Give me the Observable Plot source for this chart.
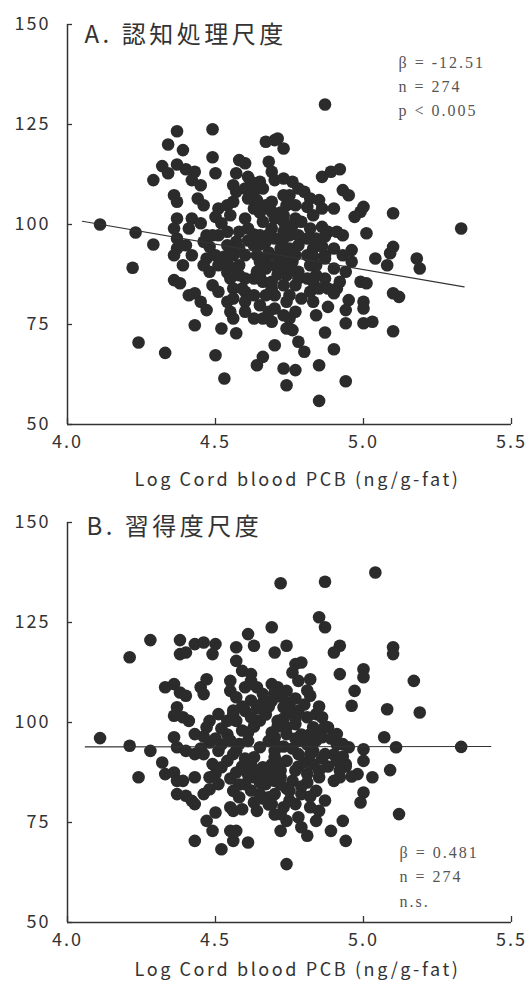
<!DOCTYPE html>
<html>
<head>
<meta charset="utf-8">
<script src="https://cdn.jsdelivr.net/npm/d3@7"></script>
<script src="https://cdn.jsdelivr.net/npm/@observablehq/plot@0.6"></script>
<style>
  html, body { margin: 0; padding: 0; background: #fff; }
  #chart svg { display: block; }
</style>
</head>
<body>
<div id="chart"></div>
<script>
// ---- tick labels and axis text ----
const xTicks = [4.0, 4.5, 5.0, 5.5];
const yTicks = [50, 75, 100, 125, 150];
const xLabel = "Log Cord blood PCB (ng/g-fat)";
const titleA = "A. 認知処理尺度";
const titleB = "B. 習得度尺度";
const statsA = ["β = -12.51", "n = 274", "p < 0.005"];
const statsB = ["β = 0.481", "n = 274", "n.s."];

// ---- regression lines (x endpoints, y endpoints) ----
const fitXA = [4.05, 5.34];
const fitYA = [100.8, 84.4];
const fitXB = [4.06, 5.43];
const fitYB = [93.9, 94.0];

// ---- panel A: [log PCB, score] ----
const pointsA = [
  [4.11,100],[4.23,98],[4.22,89.2],[4.29,95],[4.24,70.5],[4.33,67.9],[4.29,111.1],[4.32,114.6],[4.34,112.8],[4.34,120],
  [4.37,123.3],[4.39,118.6],[4.37,115],[4.40,113.8],[4.43,113.2],[4.42,111.1],[4.45,109.8],[4.36,107.3],[4.37,105.7],[4.44,106.5],
  [4.46,104.8],[4.37,101.5],[4.36,99],[4.37,96.5],[4.42,101.5],[4.41,99],[4.45,100.3],[4.37,94],[4.40,94.8],[4.42,92.3],
  [4.36,92.3],[4.39,89.8],[4.38,85.3],[4.36,86.1],[4.41,82.3],[4.43,82.8],[4.45,80.7],[4.47,78.6],[4.43,74.8],[4.46,89.8],
  [4.48,88.2],[4.47,91.5],[4.48,94.4],[4.49,84.8],[4.51,83.2],[4.49,123.8],[4.49,116.8],[4.50,112.8],[4.52,74],[4.50,67.3],
  [4.53,61.5],[4.55,86.5],[4.56,84],[4.55,78.2],[4.56,76.5],[4.57,72.8],[4.54,90.3],[4.58,89.8],[4.60,83.2],[4.60,80.7],
  [4.63,82.3],[4.65,79.8],[4.68,78.2],[4.69,75.7],[4.64,88.2],[4.66,85.7],[4.69,84],[4.67,91.5],[4.70,89.8],[4.70,69.8],
  [4.66,66.9],[4.64,64.8],
  [4.58,116.1],[4.60,115.3],[4.57,112.8],[4.61,111.9],[4.62,110.7],[4.57,108.2],[4.60,109],[4.67,120.7],[4.70,121.1],[4.71,121.5],
  [4.73,119],[4.68,115.7],[4.69,113.2],[4.70,111.1],[4.64,106.1],[4.51,104],[4.54,104.8],[4.50,101.9],[4.55,102.3],[4.52,100.3],
  [4.60,101.5],[4.61,99],[4.58,98.2],[4.57,95.7],[4.67,104.8],[4.69,105.7],[4.70,101.5],[4.76,110.7],[4.78,109],[4.86,111.9],
  [4.89,113.2],[4.92,113.8],[4.93,108.6],[4.95,107.3],[4.69,103.2],[4.74,104.8],[4.73,102.3],[4.77,101.5],[4.80,108.2],[4.82,106.5],
  [4.81,104.4],[4.85,106.1],[4.86,104],[4.90,104],[4.99,103.2],[4.97,101.9],[5.00,104.4],[5.10,102.8],[4.69,99],[4.70,96.5],
  [4.73,98.2],[4.76,99.8],[4.78,97.3],[4.82,99],[4.86,99.4],[4.88,98.2],[4.91,98.2],[5.01,97.8],[4.72,94],[4.75,94],
  [4.78,94.8],[4.83,94],[4.87,92.3],[4.90,94],[4.93,92.3],[4.96,93.6],[5.04,91.5],[5.10,94.4],[5.09,92.8],[5.18,91.5],
  [4.73,89],[4.69,85.7],[4.73,84.8],[4.70,82.3],[4.76,90.7],[4.78,88.2],[4.82,89.8],[4.77,84.8],[4.82,83.2],[4.79,81.5],
  [4.87,91.5],[4.90,89],[4.87,86.5],[4.91,84],[4.90,82.8],[4.96,90.7],[5.08,89.8],[5.19,89],[4.99,85.7],[5.01,85.3],
  [5.12,81.9],[5.10,82.8],[4.95,81.1],[4.94,78.6],[5.00,80.7],[5.00,79],[4.88,79.4],[4.94,75.3],[5.00,75.3],[5.03,75.7],
  [5.10,73.3],[4.87,73],[4.90,68.8],[4.70,79],[4.73,77.3],[4.74,74],[4.76,73.6],[4.78,70.7],[4.80,68.2],[4.73,64],
  [4.77,63.6],[4.74,59.8],[4.85,64.8],[4.94,60.8],[4.85,55.9],[4.87,130],[5.33,99],
  [4.51,97.3],[4.54,94.8],[4.56,92.3],[4.60,92.3],[4.63,94.8],[4.65,97.3],[4.66,100.7],[4.63,104],[4.56,105.7],[4.54,98.2],
  [4.58,94],[4.64,92.3],[4.67,95.7],[4.73,96.5],[4.74,92.3],[4.77,92.3],[4.81,92.3],[4.84,89.8],[4.84,87.3],[4.83,85.7],
  [4.74,87.3],[4.75,82.3],[4.74,80.7],[4.63,86.5],[4.60,86.5],[4.58,87.3],[4.63,76.5],[4.60,78.2],[4.66,76.5],[4.67,82.3],
  [4.50,92.3],[4.51,89.8],[4.56,89],[4.73,107.3],[4.75,107.3],[4.66,109],[4.63,108.2],[4.56,109.8],[4.65,110.7],[4.73,111.5],
  [4.77,104.8],[4.83,102.3],[4.84,96.5],[4.79,100.7],[4.73,100.7],[4.75,97.3],[4.67,89],[4.65,90.7],[4.85,84],[4.83,80.7],
  [4.84,77.3],[4.77,78.2],[4.75,76.5],[4.56,81.5],[4.54,80.7],[4.47,97.3],[4.49,97.3],[4.46,95.7],[4.93,97.3],[4.94,88.2],
  [4.92,85.7],[4.88,84],
  [4.53,92],[4.55,93.5],[4.61,96],[4.63,97.5],[4.65,95],[4.68,93],[4.71,92],[4.73,91],[4.76,88.5],[4.78,86.5],
  [4.81,86.5],[4.83,92],[4.86,94.5],[4.87,97],[4.81,96.5],[4.72,103],[4.65,103],[4.61,106.5],[4.54,88],[4.59,84],
  [4.65,87],[4.71,87.5],[4.68,97.5]
];

// ---- panel B: [log PCB, score] ----
const pointsB = [
  [4.21,116.3],[4.28,120.6],[4.38,120.6],[4.38,117.1],[4.40,117.5],[4.43,119.6],[4.46,120],[4.50,119.6],[4.49,117.1],[4.61,122.1],
  [4.63,119.2],[4.69,123.8],[4.70,117.5],[4.57,118.8],[4.57,115.4],[4.59,112.9],[4.62,112.1],[4.62,110.4],[4.33,108.8],[4.36,109.6],
  [4.38,107.5],[4.40,106.7],[4.45,108.8],[4.47,110.8],[4.46,107.1],[4.55,110.4],[4.55,107.9],[4.57,106.3],[4.60,108.8],[4.64,108.8],
  [4.66,107.1],[4.69,109.6],[4.37,103.8],[4.36,101.7],[4.39,101.3],[4.41,100.4],[4.48,100.4],[4.47,98.8],[4.51,102.1],[4.54,100.4],
  [4.56,102.1],[4.60,102.9],[4.62,101.3],[4.36,96.3],[4.43,97.1],
  [4.72,134.8],[4.87,135.2],[4.85,126.3],[4.87,123.8],[4.74,119.2],[4.90,117.5],[4.92,119.2],[5.10,118.8],[5.10,117.1],[4.77,114.6],
  [4.79,115],[4.76,112.5],[4.78,110.4],[4.82,110.8],[4.92,112.1],[5.00,113.3],[5.00,111.3],[5.17,110.4],[4.97,107.9],[4.96,104.2],
  [5.08,103.3],[5.19,102.5],[4.82,106.7],
  [4.71,108.8],[4.74,107.9],[4.69,105.4],[4.73,103.8],[4.75,104.6],[4.78,102.9],[4.71,100.4],[4.74,98.8],[4.77,99.6],[4.81,101.3],
  [4.84,102.1],[4.86,101.3],[4.88,98.8],[4.85,97.1],[4.91,97.1],[4.83,98.8],[5.07,96.3],
  [4.21,94.2],[4.28,92.9],[4.24,86.3],[4.32,90],[4.33,87.1],[4.36,87.5],[4.37,85.4],[4.39,85.4],[4.37,93.8],[4.40,92.9],
  [4.43,92.1],[4.46,92.1],[4.37,82.1],[4.40,81.7],[4.42,80.4],[4.43,79.6],[4.43,86.3],[4.48,86.3],[4.50,87.1],[4.51,84.6],
  [4.46,82.1],[4.48,83.3],[4.50,77.5],[4.47,75.4],[4.49,72.9],[4.43,70.4],[4.52,68.3],[4.55,72.9],[4.57,72.9],[4.56,70.4],
  [4.61,70],[4.56,82.9],[4.58,81.3],[4.55,78.8],[4.56,77.9],[4.59,78.3],[4.60,84.6],[4.64,77.9],
  [4.51,92.9],[4.54,90.4],[4.49,89.6],[4.52,88.8],[4.56,92.1],[4.58,94.6],[4.61,95.4],[4.65,93.8],[4.68,95.4],[4.70,92.9],
  [4.63,91.3],[4.66,88.8],[4.69,87.9],[4.63,86.3],[4.67,84.6],[4.65,82.1],[4.68,81.3],[4.70,85.4],
  [5.11,93.8],[5.09,88.1],[5.12,77.1],[5.00,93.3],[5.00,90.4],[4.98,87.1],[5.03,86.3],[5.00,82.5],[4.99,80],[4.93,75.4],
  [4.89,72.9],[4.94,70.4],[4.72,72.9],[4.81,71.7],[4.74,64.6],
  [4.70,96.3],[4.74,97.1],[4.78,95.4],[4.82,97.1],[4.86,96.3],[4.93,94.6],[4.95,93.8],[4.70,91.3],[4.74,90.4],[4.78,92.1],
  [4.83,92.9],[4.87,92.1],[4.91,90.4],[4.94,89.6],[4.72,86.3],[4.76,85.4],[4.81,87.1],[4.85,86.3],[4.90,85.4],[4.92,86.3],
  [4.70,82.1],[4.75,82.9],[4.79,82.1],[4.84,82.9],[4.69,79.6],[4.73,78.8],[4.77,79.6],[4.82,78.8],[4.85,77.9],[4.74,75.4],
  [4.78,76.3],[4.84,75.4],[4.79,73.8],[4.72,77.1],
  [4.11,96.1],[5.33,93.9],[5.04,137.5],
  [4.57,100.4],[4.59,98],[4.61,97.5],[4.63,99],[4.65,100.5],[4.67,102],[4.68,104],[4.66,105],[4.64,103.5],[4.62,105.5],
  [4.59,104],[4.56,103],[4.54,97],[4.52,98.5],[4.50,96],[4.48,95],[4.46,96.5],[4.45,93.5],[4.52,94.5],[4.55,95.5],
  [4.57,93],[4.60,91],[4.62,89.5],[4.64,88],[4.61,87],[4.59,89],[4.57,87.5],[4.55,86],[4.58,84.5],[4.62,83],
  [4.65,85],[4.67,87],[4.69,89.5],[4.71,90],[4.72,88],[4.73,94],[4.71,94],[4.69,97.5],[4.71,99],[4.73,101],
  [4.75,102.5],[4.77,101],[4.75,105],[4.72,106.5],[4.70,107.5],[4.77,106],[4.80,104.5],[4.81,108],[4.85,104],[4.87,99],
  [4.89,96],[4.91,94.5],[4.90,92],[4.93,91.5],[4.94,89],[4.96,86.5],[4.92,88],[4.88,89],[4.86,91],[4.84,95.5],
  [4.81,94.5],[4.79,97],[4.77,96],[4.76,93.5],[4.78,89],[4.80,90],[4.82,92],[4.83,89.5],[4.85,88],[4.81,85],
  [4.79,84],[4.77,88],[4.74,83.5],[4.72,84.5],[4.75,80.5],[4.68,79.5],[4.66,81],[4.63,80],[4.70,77],[4.82,81.5],
  [4.87,80.5]
];

const SANS = "'Noto Sans CJK JP', 'Noto Sans', sans-serif";
const SERIF = "'Liberation Serif', 'DejaVu Serif', serif";
const INK = "#333";
const fmtX = d => d.toFixed(1);
const xTickText = new Set(xTicks.map(fmtX));
const yTickText = new Set(yTicks.map(String));

function panel({points, fitX, fitY, title, titleDx, titleDy, stats, statsDx, statsDy, statsLH, height, labelDy}) {
  const plotH = 400;
  const svg = Plot.plot({
    width: 530,
    height,
    marginLeft: 67,
    marginRight: 19,
    marginTop: 24,
    marginBottom: height - 24 - plotH,
    x: {domain: [4, 5.5]},
    y: {domain: [50, 150]},
    style: {fontFamily: SANS, fontSize: "18px", color: INK, background: "#fff"},
    marks: [
      Plot.ruleX([4], {stroke: INK, strokeWidth: 1.5}),
      Plot.ruleY([50], {stroke: INK, strokeWidth: 1.5}),
      Plot.tickY(yTicks, {y: d => d, insetRight: 439, stroke: INK, strokeWidth: 1.3}),
      Plot.tickX(xTicks, {x: d => d, insetTop: 394, stroke: INK, strokeWidth: 1.3}),
      Plot.axisY(yTicks, {tickSize: 0, tickPadding: 17, label: null, fontSize: 18, fill: INK}),
      Plot.axisX(xTicks, {tickSize: 0, tickPadding: 11, label: null, fontSize: 18, fill: INK, tickFormat: fmtX}),
      Plot.text([xLabel], {frameAnchor: "bottom", dy: labelDy, dx: 8, lineAnchor: "middle", textAnchor: "middle", fontSize: 18, fill: INK}),
      Plot.dot(points, {x: d => d[0], y: d => d[1], r: 6.3, fill: "#2b2b2b"}),
      Plot.line(fitX.map((x, i) => [x, fitY[i]]), {x: d => d[0], y: d => d[1], stroke: INK, strokeWidth: 1.1}),
      Plot.text([title], {frameAnchor: "top-left", dx: titleDx, dy: titleDy, textAnchor: "start", lineAnchor: "middle", fontSize: 24, fill: INK}),
      Plot.text([stats.join("\n")], {frameAnchor: "top-left", dx: statsDx, dy: statsDy, textAnchor: "start", lineAnchor: "middle", lineHeight: statsLH, fontSize: 16, fontFamily: SERIF, fill: "#555"})
    ]
  });
  d3.select(svg).selectAll("text").each(function() {
    const t = this.textContent;
    const s = d3.select(this);
    if (t === title) s.attr("letter-spacing", "3.5px");
    else if (t === xLabel) s.attr("letter-spacing", "2.6px");
    else if (xTickText.has(t) || yTickText.has(t)) s.attr("letter-spacing", "2px");
    else if (t.startsWith("β")) s.attr("letter-spacing", "2px");
  });
  return svg;
}

const chart = document.getElementById("chart");
chart.append(panel({
  points: pointsA, fitX: fitXA, fitY: fitYA, title: titleA, titleDx: 17, titleDy: 11,
  stats: statsA, statsDx: 331, statsDy: 60, statsLH: 1.5, height: 498, labelDy: 56
}));
chart.append(panel({
  points: pointsB, fitX: fitXB, fitY: fitYB, title: titleB, titleDx: 19, titleDy: 5,
  stats: statsB, statsDx: 332, statsDy: 352, statsLH: 1.55, height: 490, labelDy: 48
}));
</script>
</body>
</html>
